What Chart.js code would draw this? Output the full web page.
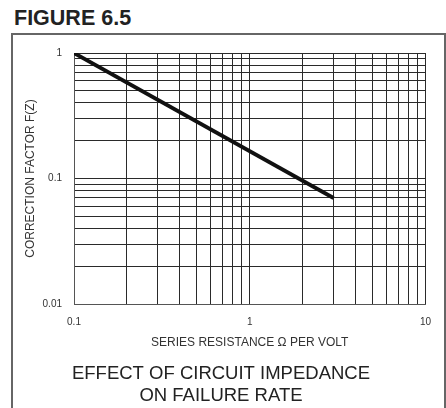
<!DOCTYPE html>
<html>
<head>
<meta charset="utf-8">
<script src="https://cdn.jsdelivr.net/npm/chart.js@4.4.0/dist/chart.umd.min.js"></script>
<style>
  html, body { margin: 0; padding: 0; background: #fff; overflow: hidden; }
  body { width: 446px; height: 408px; position: relative; font-family: "Liberation Sans", Arial, sans-serif; }
  #fig { position: absolute; left: 14px; top: 6px; font-size: 21.5px; font-weight: bold; color: #222; line-height: 24px; }
  #frame { position: absolute; left: 11px; top: 33px; width: 431px; height: 400px; border: 2px solid #666; border-bottom: none; }
  #wrap { position: absolute; left: 13px; top: 35px; width: 430px; height: 373px; }
</style>
</head>
<body>
<div id="fig">FIGURE 6.5</div>
<div id="frame"></div>
<div id="wrap"><canvas id="impedanceChart"></canvas></div>
<script>
// datos
const resistance = [0.1, 3];
const correction = [1, 0.07];

const xGrid = [0.1, 0.2, 0.3, 0.4, 0.5, 0.6, 0.7, 0.8, 0.9, 1, 2, 3, 4, 5, 6, 7, 8, 9, 10];
const yGrid = [0.01, 0.02, 0.03, 0.04, 0.05, 0.06, 0.07, 0.08, 0.09, 0.1, 0.2, 0.3, 0.4, 0.5, 0.6, 0.7, 0.8, 0.9, 1];
const xTickLabels = [0.1, 1, 10];
const yTickLabels = [0.01, 0.1, 1];

const ctx = document.getElementById('impedanceChart').getContext('2d');
const tickFont = { family: '"Liberation Sans", Arial, sans-serif', size: 10 };
const axisFont = { family: '"Liberation Sans", Arial, sans-serif', size: 12 };

new Chart(ctx, {
  type: 'scatter',
  data: {
    datasets: [{
      label: 'F(Z)',
      data: resistance.map((x, i) => ({ x: x, y: correction[i] })),
      showLine: true,
      borderColor: '#111',
      borderWidth: 3.8,
      pointRadius: 0,
      fill: false
    }]
  },
  options: {
    responsive: true,
    maintainAspectRatio: false,
    animation: false,
    layout: { padding: { top: 13, right: 14, bottom: 0, left: 0 } },
    plugins: {
      legend: { display: false },
      tooltip: { enabled: false },
      title: {
        display: true,
        position: 'bottom',
        text: ['EFFECT OF CIRCUIT IMPEDANCE', 'ON FAILURE RATE'],
        color: '#222',
        font: { family: '"Liberation Sans", Arial, sans-serif', size: 18.5, weight: 'normal', lineHeight: 22.7 / 18.5 },
        padding: { top: 6, bottom: 0.5 }
      }
    },
    scales: {
      x: {
        type: 'logarithmic',
        min: 0.1,
        max: 10,
        afterBuildTicks: s => { s.ticks = xGrid.map(v => ({ value: v })); },
        afterFit: s => { s.height = 52; },
        grid: { color: '#2a2a2a', lineWidth: 1, drawTicks: false },
        border: { color: '#555', width: 1 },
        ticks: {
          autoSkip: false,
          maxRotation: 0,
          padding: 12,
          color: '#333',
          font: tickFont,
          callback: v => xTickLabels.includes(v) ? String(v) : ''
        },
        title: {
          display: true,
          text: 'SERIES RESISTANCE \u03A9 PER VOLT',
          color: '#333',
          font: axisFont,
          padding: { top: 0, bottom: 5.8 }
        }
      },
      y: {
        type: 'logarithmic',
        min: 0.01,
        max: 1,
        afterBuildTicks: s => { s.ticks = yGrid.map(v => ({ value: v })); },
        afterFit: s => { s.width = 61; },
        grid: { color: '#2a2a2a', lineWidth: 1, drawTicks: false },
        border: { color: '#555', width: 1 },
        ticks: {
          autoSkip: false,
          padding: 12,
          color: '#333',
          font: tickFont,
          callback: v => yTickLabels.includes(v) ? String(v) : ''
        },
        title: {
          display: true,
          text: 'CORRECTION FACTOR F(Z)',
          color: '#333',
          font: axisFont,
          padding: { top: 10, bottom: 0 }
        }
      }
    }
  }
});
</script>
</body>
</html>
